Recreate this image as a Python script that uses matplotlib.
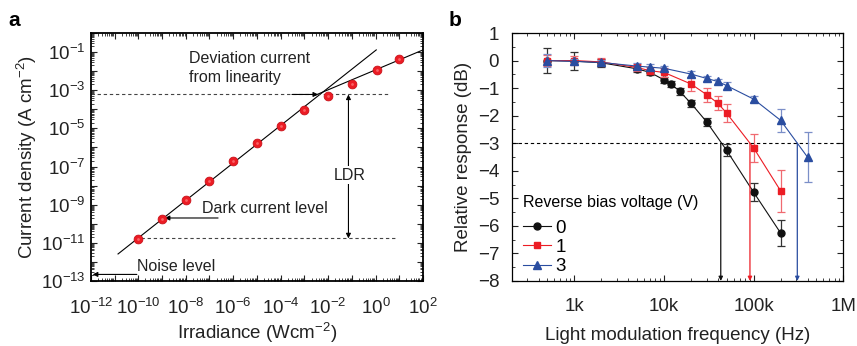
import matplotlib
matplotlib.use("Agg")
from matplotlib import pyplot as plt
from matplotlib.ticker import FixedLocator, LogLocator, NullFormatter, MultipleLocator

plt.rcParams["font.family"] = ["Liberation Sans", "DejaVu Sans"]
plt.rcParams["mathtext.default"] = "regular"
plt.rcParams["axes.unicode_minus"] = True

# ---- panel a data ----
irradiance = [1e-10, 1e-9, 1e-8, 1e-7, 1e-6, 1e-5, 1e-4, 1e-3, 1e-2, 1e-1, 1.2, 10]
current = [1.6e-11, 1.8e-10, 1.8e-9, 1.8e-8, 1.9e-7, 1.8e-6, 1.3e-5, 9.5e-5,
           5.0e-4, 2.2e-3, 1.2e-2, 4.3e-2]
lin_fit_x = [1.4e-11, 1.07]
lin_fit_y = [2.6e-12, 0.13]
sub_fit_x = [2.8e-3, 100]
sub_fit_y = [5.4e-4, 0.13]
dev_level = 6.0e-4
dark_level = 1.7e-11
a_xticks = [10.0 ** e for e in range(-12, 3)]
a_xlabels = ["$10^{%d}$" % e if e % 2 == 0 else "" for e in range(-12, 3)]
a_yticks = [10.0 ** e for e in range(-13, 1)]
a_ylabels = ["$10^{%d}$" % e if e % 2 == 1 else "" for e in range(-13, 1)]

# ---- panel b data ----
freq_0 = [500, 1000, 2000, 5000, 7000, 10000, 12000, 15000, 20000, 30000, 50000, 100000, 200000]
resp_0 = [0.0, -0.02, -0.08, -0.3, -0.43, -0.7, -0.85, -1.12, -1.55, -2.23, -3.26, -4.78, -6.26]
err_0 = [0.45, 0.32, 0.15, 0.1, 0.1, 0.1, 0.1, 0.12, 0.12, 0.15, 0.22, 0.33, 0.47]
freq_1 = [500, 1000, 2000, 5000, 7000, 10000, 20000, 30000, 40000, 50000, 100000, 200000]
resp_1 = [0.0, 0.0, -0.05, -0.25, -0.37, -0.43, -0.85, -1.24, -1.55, -1.91, -3.17, -4.73]
err_1 = [0.2, 0.15, 0.15, 0.12, 0.12, 0.15, 0.24, 0.25, 0.25, 0.32, 0.5, 0.75]
freq_3 = [500, 1000, 2000, 5000, 7000, 10000, 20000, 30000, 40000, 50000, 100000, 200000, 400000]
resp_3 = [0.0, -0.03, -0.07, -0.2, -0.24, -0.28, -0.49, -0.65, -0.76, -0.91, -1.4, -2.17, -3.51]
err_3 = [0.25, 0.1, 0.08, 0.1, 0.1, 0.1, 0.1, 0.1, 0.1, 0.12, 0.12, 0.42, 0.9]
cutoff_freq = [43000, 91000, 307000]
b_xticks = [1e3, 1e4, 1e5, 1e6]
b_xlabels = ["1k", "10k", "100k", "1M"]
b_yticks = list(range(-8, 2))

black = "#111111"
red = "#ec1c24"
blue = "#2a4da0"
txt = "#222222"

fig = plt.figure(figsize=(8.57, 3.46), dpi=100)
ax1 = fig.add_axes([0.106, 0.188, 0.3876, 0.7166])
ax2 = fig.add_axes([0.597, 0.188, 0.387, 0.7166])

fs_tick = 13.5
fs_note = 11.5

# ---------- panel a ----------
ax1.set_xscale("log")
ax1.set_yscale("log")
ax1.set_xlim(1e-12, 1e2)
ax1.set_ylim(1e-13, 1e0)
ax1.plot(lin_fit_x, lin_fit_y, color="black", lw=0.8)
ax1.plot(sub_fit_x, sub_fit_y, color="black", lw=0.8)
ax1.plot([1e-12, 3.4], [dev_level, dev_level], color="#444444", lw=0.8, ls=(0, (3, 2.5)))
ax1.plot([1.3e-10, 8.0], [dark_level, dark_level], color="#444444", lw=0.8, ls=(0, (3, 2.5)))
ax1.plot(irradiance, current, "o", color=red, mec="#c81018", mew=0.6, ms=6.3, zorder=5)
ax1.plot(irradiance, current, "o", color="#ff8080", ms=2, mew=0, alpha=0.7, zorder=6)

arrow = dict(arrowstyle="-|>", color="black", lw=0.8, mutation_scale=7, shrinkA=0, shrinkB=0)
ax1.annotate("", xy=(3.8e-3, dev_level), xytext=(3e-4, dev_level), arrowprops=arrow)
ax1.annotate("", xy=(1.3e-9, 2e-10), xytext=(2.3e-7, 2e-10), arrowprops=arrow)
ax1.annotate("", xy=(1.2e-12, 2.2e-13), xytext=(8.7e-11, 2.2e-13), arrowprops=arrow)
ax1.annotate("", xy=(0.072, dev_level), xytext=(0.072, dark_level),
             arrowprops=dict(arrowstyle="<|-|>", color="black", lw=0.8, mutation_scale=7,
                             shrinkA=0, shrinkB=0))
ax1.text(0.08, 3.5e-8, "LDR", fontsize=fs_note, ha="center", va="center", color=txt,
         bbox=dict(facecolor="white", edgecolor="none", pad=1))
ax1.text(1.4e-8, 1.4e-2, "Deviation current\nfrom linearity", fontsize=fs_note, ha="left",
         va="center", linespacing=1.35, color=txt)
ax1.text(5e-8, 6.0e-10, "Dark current level", fontsize=fs_note, ha="left", va="center", color=txt)
ax1.text(8.7e-11, 5.4e-13, "Noise level", fontsize=fs_note, ha="left", va="center", color=txt)

ax1.xaxis.set_major_locator(FixedLocator(a_xticks))
ax1.set_xticklabels(a_xlabels)
ax1.yaxis.set_major_locator(FixedLocator(a_yticks))
ax1.set_yticklabels(a_ylabels)
ax1.xaxis.set_minor_locator(LogLocator(base=10, subs=range(2, 10), numticks=100))
ax1.yaxis.set_minor_locator(LogLocator(base=10, subs=range(2, 10), numticks=100))
ax1.xaxis.set_minor_formatter(NullFormatter())
ax1.yaxis.set_minor_formatter(NullFormatter())
ax1.set_xlabel("Irradiance (Wcm$^{-2}$)", fontsize=fs_tick, color=txt, labelpad=2)
ax1.set_ylabel("Current density (A cm$^{-2}$)", fontsize=fs_tick, color=txt, labelpad=1)
for s in ax1.spines.values():
    s.set_linewidth(1.3)

# ---------- panel b ----------
ax2.set_xscale("log")
ax2.set_xlim(200, 1e6)
ax2.set_ylim(-8, 1)
ax2.axhline(-3, color="black", lw=0.8, ls=(0, (3, 2.5)))
for f, c in zip(cutoff_freq, [black, red, blue]):
    ax2.annotate("", xy=(f, -8), xytext=(f, -3),
                 arrowprops=dict(arrowstyle="-|>", color=c, lw=0.9, mutation_scale=6,
                                 shrinkA=0, shrinkB=0))
series = [
    (freq_0, resp_0, err_0, black, "#333333", "o", 5, "0"),
    (freq_1, resp_1, err_1, red, "#f06a70", "s", 4.8, "1"),
    (freq_3, resp_3, err_3, blue, "#7b8fc8", "^", 5.5, "3"),
]
for fx, ry, ey, c, ec, m, ms, lab in series:
    ax2.errorbar(fx, ry, yerr=ey, fmt="none", ecolor=ec, elinewidth=0.9, capsize=3, capthick=0.9)
    ax2.plot(fx, ry, color=c, lw=0.8, marker=m, ms=ms, label=lab)

leg = ax2.legend(title="Reverse bias voltage (V)", loc="lower left", bbox_to_anchor=(0.017, 0.0),
                 frameon=False, fontsize=fs_tick, title_fontsize=fs_note, alignment="left",
                 handlelength=1.5, handletextpad=0.25, labelspacing=0.12, borderaxespad=0.1,
                 borderpad=0.2)
leg._legend_box.sep = 7

ax2.xaxis.set_major_locator(FixedLocator(b_xticks))
ax2.set_xticklabels(b_xlabels)
ax2.xaxis.set_minor_locator(LogLocator(base=10, subs=range(2, 10), numticks=100))
ax2.xaxis.set_minor_formatter(NullFormatter())
ax2.set_yticks(b_yticks)
ax2.set_yticklabels(["%d" % v if v >= 0 else "\u2212%d" % -v for v in b_yticks])
ax2.yaxis.set_minor_locator(MultipleLocator(0.5))
ax2.set_xlabel("Light modulation frequency (Hz)", fontsize=fs_tick, color=txt, labelpad=9)
ax2.set_ylabel("Relative response (dB)", fontsize=fs_tick, color=txt, labelpad=4)
for s in ax2.spines.values():
    s.set_linewidth(0.9)

for ax in (ax1, ax2):
    ax.tick_params(which="both", direction="in", top=True, right=True, labelsize=fs_tick,
                   colors=txt)
    ax.tick_params(which="major", length=4, width=0.8)
    ax.tick_params(which="minor", length=2, width=0.6)
    ax.tick_params(axis="x", which="major", pad=12)
ax1.tick_params(axis="y", which="major", pad=4)
ax2.tick_params(axis="y", which="major", pad=9)

fig.text(0.010, 0.925, "a", fontsize=15, fontweight="bold")
fig.text(0.523, 0.925, "b", fontsize=15, fontweight="bold")

fig.savefig("out.png", dpi=100)
